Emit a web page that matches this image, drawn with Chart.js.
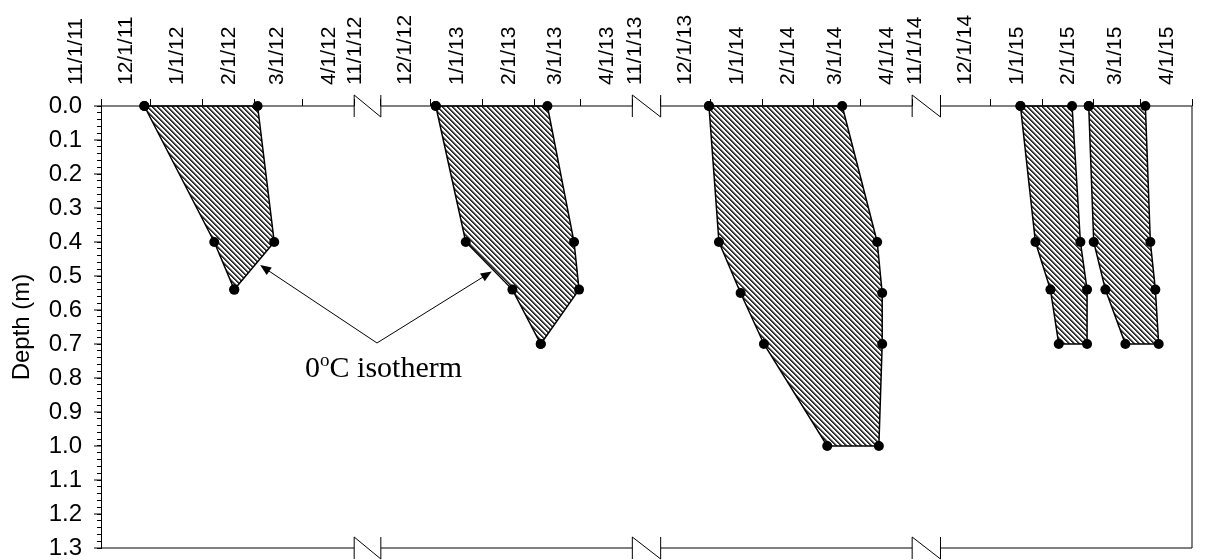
<!DOCTYPE html>
<html>
<head>
<meta charset="utf-8">
<title>Frost depth</title>
<script src="https://cdn.jsdelivr.net/npm/chart.js@4.4.1/dist/chart.umd.min.js"></script>
<style>
    html, body { margin: 0; padding: 0; background: #fff; }
    #wrap { width: 1206px; height: 560px; }
</style>
</head>
<body>
<div id="wrap"><canvas id="myChart" width="1206" height="560"></canvas></div>
<script>
// top axis labels, one block per winter (Nov 1 .. Apr 1)
var tickLabels = [
    "11/1/11", "12/1/11", "1/1/12", "2/1/12", "3/1/12", "4/1/12",
    "11/1/12", "12/1/12", "1/1/13", "2/1/13", "3/1/13", "4/1/13",
    "11/1/13", "12/1/13", "1/1/14", "2/1/14", "3/1/14", "4/1/14",
    "11/1/14", "12/1/14", "1/1/15", "2/1/15", "3/1/15", "4/1/15"
]

// frozen zones: depth (m), date the 0C isotherm got there going down (freeze)
// and date it got there again in spring (thaw)
var depth2012 = [0.0, 0.4, 0.54]
var freeze2012 = ["2011-11-27", "2012-01-08", "2012-01-20"]
var thaw2012 = ["2012-02-03", "2012-02-13", "2012-01-20"]

var depth2013 = [0.0, 0.4, 0.54, 0.7]
var freeze2013 = ["2012-12-04", "2012-12-22", "2013-01-19", "2013-02-05"]
var thaw2013 = ["2013-02-09", "2013-02-25", "2013-02-28", "2013-02-05"]

var depth2014 = [0.0, 0.4, 0.55, 0.7, 1.0]
var freeze2014 = ["2013-11-30", "2013-12-06", "2013-12-19", "2014-01-02", "2014-02-09"]
var thaw2014 = ["2014-02-18", "2014-03-11", "2014-03-14", "2014-03-14", "2014-03-12"]

var depth2015a = [0.0, 0.4, 0.54, 0.7]
var freeze2015a = ["2014-12-19", "2014-12-28", "2015-01-06", "2015-01-11"]
var thaw2015a = ["2015-01-19", "2015-01-24", "2015-01-28", "2015-01-28"]

var depth2015b = [0.0, 0.4, 0.54, 0.7]
var freeze2015b = ["2015-01-29", "2015-02-01", "2015-02-08", "2015-02-20"]
var thaw2015b = ["2015-03-04", "2015-03-07", "2015-03-10", "2015-03-12"]

var zones = [
    [depth2012, freeze2012, thaw2012],
    [depth2013, freeze2013, thaw2013],
    [depth2014, freeze2014, thaw2014],
    [depth2015a, freeze2015a, thaw2015a],
    [depth2015b, freeze2015b, thaw2015b]
]

// the x axis only shows Nov-Mar of each winter, winters put side by side
var SEASON_DAYS = 151
var GAP_DAYS = 17
var FIRST_WINTER = 2011

function dayValue(y, m, d) {
    var start = m >= 11 ? y : y - 1
    var days = (Date.UTC(y, m - 1, d) - Date.UTC(start, 10, 1)) / 86400000
    return (start - FIRST_WINTER) * (SEASON_DAYS + GAP_DAYS) + days
}

function isoToX(s) {
    var p = s.split("-")
    return dayValue(+p[0], +p[1], +p[2])
}

function labelToX(s) {
    var p = s.split("/")
    return dayValue(2000 + +p[2], +p[0], +p[1])
}

function outline(depth, freeze, thaw) {
    var pts = []
    for (var i = 0; i < depth.length; i++) {
        pts.push({ x: isoToX(freeze[i]), y: depth[i] })
    }
    for (var j = depth.length - 1; j >= 0; j--) {
        pts.push({ x: isoToX(thaw[j]), y: depth[j] })
    }
    pts.push(pts[0])
    return pts
}

var tickX = tickLabels.map(labelToX)

// start / end of each winter block
var blocks = []
for (var i = 0; i < tickLabels.length; i += 6) {
    blocks.push([tickX[i], tickX[i + 5]])
}

function hatchPattern() {
    var shades = [35, 70, 170, 255, 255]
    var size = shades.length
    var c = document.createElement("canvas")
    c.width = size
    c.height = size
    var g = c.getContext("2d")
    var img = g.createImageData(size, size)
    for (var y = 0; y < size; y++) {
        for (var x = 0; x < size; x++) {
            var v = shades[((x - y) % size + size) % size]
            var o = (y * size + x) * 4
            img.data[o] = v
            img.data[o + 1] = v
            img.data[o + 2] = v
            img.data[o + 3] = 255
        }
    }
    g.putImageData(img, 0, 0)
    return document.getElementById("myChart").getContext("2d").createPattern(c, "repeat")
}

var hatch = hatchPattern()

// axis lines with break marks, major y ticks, and the isotherm note
var decorations = {
    id: "decorations",
    afterDraw: function (chart) {
        var ctx = chart.ctx
        var xs = chart.scales.x
        var ys = chart.scales.y
        var area = chart.chartArea
        ctx.save()
        ctx.strokeStyle = "#000"
        ctx.fillStyle = "#000"
        ctx.lineWidth = 1

        ;[area.top, area.bottom].forEach(function (yy) {
            blocks.forEach(function (b, i) {
                var x0 = xs.getPixelForValue(b[0])
                var x1 = xs.getPixelForValue(b[1])
                ctx.beginPath()
                ctx.moveTo(x0, yy)
                ctx.lineTo(x1, yy)
                ctx.stroke()
                if (i < blocks.length - 1) {
                    var nx = xs.getPixelForValue(blocks[i + 1][0])
                    ctx.beginPath()
                    ctx.moveTo(x1, yy - 11)
                    ctx.lineTo(x1, yy + 11)
                    ctx.moveTo(x1, yy - 11)
                    ctx.lineTo(nx, yy + 11)
                    ctx.moveTo(nx, yy - 11)
                    ctx.lineTo(nx, yy + 11)
                    ctx.stroke()
                }
            })
        })

        ctx.beginPath()
        ctx.moveTo(area.right, area.top)
        ctx.lineTo(area.right, area.bottom)
        ctx.stroke()

        for (var d = 0; d <= 13; d++) {
            var py = ys.getPixelForValue(d / 10)
            ctx.beginPath()
            ctx.moveTo(area.left - 7, py)
            ctx.lineTo(area.left, py)
            ctx.stroke()
        }

        // note and arrows
        var from = [xs.getPixelForValue(165.7), ys.getPixelForValue(0.697)]
        var tips = [
            [xs.getPixelForValue(95.5), ys.getPixelForValue(0.468)],
            [xs.getPixelForValue(234.6), ys.getPixelForValue(0.487)]
        ]
        tips.forEach(function (t) {
            var a = Math.atan2(t[1] - from[1], t[0] - from[0])
            ctx.beginPath()
            ctx.moveTo(from[0], from[1])
            ctx.lineTo(t[0] - 8 * Math.cos(a), t[1] - 8 * Math.sin(a))
            ctx.stroke()
            ctx.beginPath()
            ctx.moveTo(t[0], t[1])
            ctx.lineTo(t[0] - 11 * Math.cos(a) + 4.5 * Math.sin(a), t[1] - 11 * Math.sin(a) - 4.5 * Math.cos(a))
            ctx.lineTo(t[0] - 11 * Math.cos(a) - 4.5 * Math.sin(a), t[1] - 11 * Math.sin(a) + 4.5 * Math.cos(a))
            ctx.closePath()
            ctx.fill()
        })

        var tx = xs.getPixelForValue(122.5)
        var ty = ys.getPixelForValue(0.797)
        var serif = "'Liberation Serif', 'Times New Roman', serif"
        ctx.textBaseline = "alphabetic"
        ctx.textAlign = "left"
        ctx.font = "30px " + serif
        ctx.fillText("0", tx, ty)
        tx += ctx.measureText("0").width
        ctx.font = "19px " + serif
        ctx.fillText("o", tx, ty - 11)
        tx += ctx.measureText("o").width
        ctx.font = "30px " + serif
        ctx.fillText("C isotherm", tx, ty)
        ctx.restore()
    }
}

Chart.defaults.font.family = "'Liberation Sans', Arial, sans-serif"
Chart.defaults.font.size = 20
Chart.defaults.color = "#000"

new Chart("myChart", {
    type: "scatter",
    data: {
        datasets: zones.map(function (z) {
            return {
                data: outline(z[0], z[1], z[2]),
                showLine: true,
                fill: "shape",
                backgroundColor: hatch,
                borderColor: "#000",
                borderWidth: 1.5,
                tension: 0,
                pointRadius: 5,
                pointBackgroundColor: "#000",
                pointBorderColor: "#000",
                pointBorderWidth: 0,
                clip: false
            }
        })
    },
    options: {
        responsive: false,
        animation: false,
        layout: { padding: { left: 0, right: 14, top: 0, bottom: 12 } },
        plugins: {
            legend: { display: false },
            tooltip: { enabled: false }
        },
        scales: {
            x: {
                type: "linear",
                position: "top",
                min: tickX[0],
                max: tickX[tickX.length - 1],
                afterBuildTicks: function (s) {
                    s.ticks = tickX.map(function (v) { return { value: v } })
                },
                afterFit: function (s) {
                    s.height = 106
                    s.paddingLeft = 0
                    s.paddingRight = 0
                },
                ticks: {
                    autoSkip: false,
                    minRotation: 90,
                    maxRotation: 90,
                    padding: 14,
                    font: { size: 21 },
                    callback: function (v, i) { return tickLabels[i] }
                },
                grid: { drawOnChartArea: false, tickLength: 7, tickColor: "#000" },
                border: { display: false }
            },
            y: {
                type: "linear",
                reverse: true,
                min: 0,
                max: 1.3,
                afterFit: function (s) {
                    s.width = 101
                    s.paddingTop = 0
                    s.paddingBottom = 0
                },
                ticks: {
                    stepSize: 0.02,
                    autoSkip: false,
                    maxTicksLimit: 100,
                    padding: 15,
                    font: { size: 24 },
                    callback: function (v) {
                        return Math.abs(v * 10 - Math.round(v * 10)) < 1e-6 ? v.toFixed(1) : ""
                    }
                },
                grid: { drawOnChartArea: false, tickLength: 4, tickColor: "#000" },
                border: { color: "#000" },
                title: {
                    display: true,
                    text: "Depth (m)",
                    font: { size: 24 },
                    padding: { top: 8, bottom: 0 }
                }
            }
        }
    },
    plugins: [decorations]
});
</script>
</body>
</html>
